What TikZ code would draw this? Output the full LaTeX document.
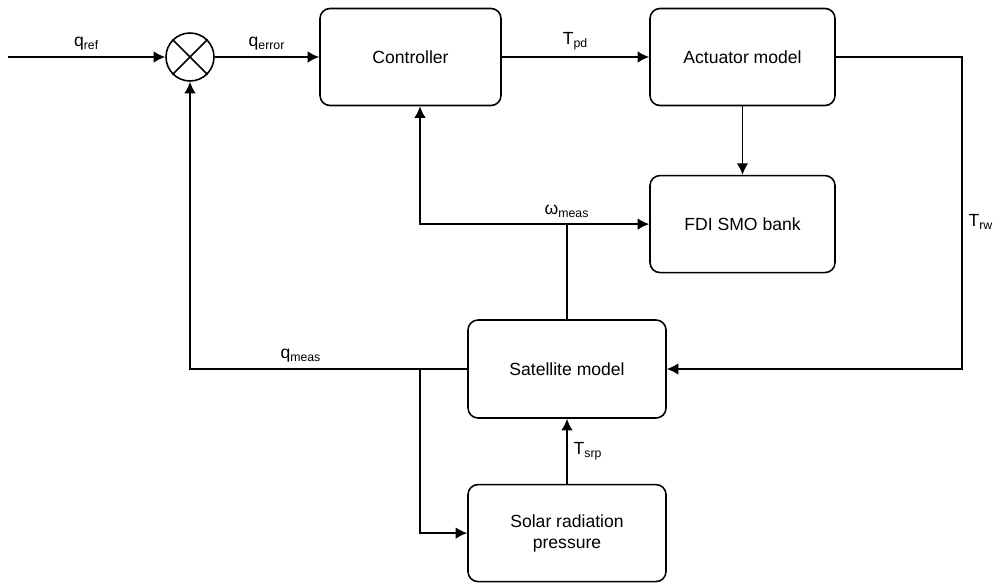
\documentclass[tikz,border=0pt]{standalone}
\usepackage{fontspec}
\setmainfont{Liberation Sans}
\usetikzlibrary{arrows,arrows.meta,shapes,positioning}

\begin{document}
\begin{tikzpicture}[->,>={Latex[length=2.3mm,width=2.3mm]},auto,line width=0.9pt,
                    font=\fontsize{10}{12}\selectfont]
\tikzstyle{blk}=[rectangle,rounded corners=0.2cm,line width=0.9pt,draw=black,
                 minimum width=3.7cm,minimum height=1.94cm,align=center]
\tikzstyle{wide}=[blk,minimum width=3.96cm,minimum height=1.96cm]
\tikzstyle{summ}=[circle,line width=0.9pt,draw=black,minimum size=0.96cm,inner sep=0pt]
\useasboundingbox (0,0) rectangle (20.1,11.68);
% blocks
\node[summ] (sum) at (3.8,10.54) {};
\node[blk,minimum width=3.62cm] (ctrl) at (8.21,10.54) {Controller};
\node[blk] (act) at (14.85,10.54) {Actuator model};
\node[blk] (fdi) [below=1.37cm of act] {FDI SMO bank};
\node[wide] (sat) at (11.34,4.30) {Satellite model};
\node[wide,minimum height=1.94cm] (srp) [below=1.3cm of sat] {Solar radiation\\pressure};
\draw[-] (sum.north east) -- (sum.south west);
\draw[-] (sum.north west) -- (sum.south east);
% helper points
\coordinate (in) at (0.16,10.54);
\coordinate (rwc) at (19.24,7.24);
\coordinate (wj) at (sat.north |- fdi.west);
\coordinate (cin) at ([xshift=0.19cm]ctrl.south);
\coordinate (qs) at (cin |- sat.west);
% forward path
\draw (in) -- node[above] {q\textsubscript{ref}} (sum.west);
\draw (sum.east) -- node[above] {q\textsubscript{error}} (ctrl.west);
\draw (ctrl.east) -- node[above] {T\textsubscript{pd}} (act.west);
\draw (act.south) -- (fdi.north);
\draw (act.east) -| (rwc) |- (sat.east);
\node[right] at (rwc) {T\textsubscript{rw}};
% measurements
\draw[-] (sat.north) -- (wj);
\draw (wj) -- (fdi.west);
\draw (wj) -| (cin);
\node[above] at (wj) {ω\textsubscript{meas}};
\draw (sat.west) -| node[above,pos=0.3] {q\textsubscript{meas}} (sum.south);
\draw (qs) |- (srp.west);
\draw (srp.north) -- node[right] {T\textsubscript{srp}} (sat.south);
\end{tikzpicture}
\end{document}
